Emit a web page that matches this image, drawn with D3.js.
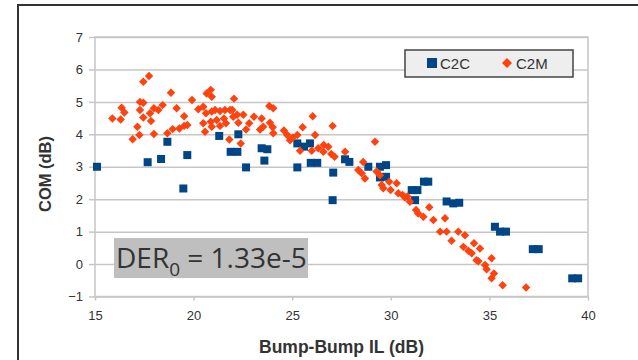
<!DOCTYPE html>
<html>
<head>
<meta charset="utf-8">
<script src="https://cdn.jsdelivr.net/npm/d3@7"></script>
<style>
  body { margin: 0; background: #fff; }
  text { font-family: "Liberation Sans", Arial, sans-serif; fill: #333; }
</style>
</head>
<body>
<div id="chart"></div>
<script>
// ... data: [Bump-Bump IL (dB), COM (dB)]
const c2c = [
  [15.1, 3.0], [17.67, 3.14], [18.35, 3.24], [18.67, 3.77], [19.48, 2.33], [19.68, 3.36],
  [21.3, 3.95], [22.27, 4.0], [21.88, 3.46], [22.22, 3.46], [22.66, 2.98], [23.45, 3.57],
  [23.74, 3.54], [23.59, 3.19], [25.26, 3.72], [25.6, 3.62], [25.9, 3.72], [25.26, 2.98],
  [25.94, 3.12], [26.27, 3.12], [27.05, 1.97], [27.08, 2.82], [27.68, 3.23], [27.9, 3.15],
  [28.86, 3.0], [29.45, 3.0], [29.76, 3.05], [29.45, 2.67], [29.76, 2.69], [31.06, 2.28],
  [31.35, 2.28], [31.23, 1.97], [31.68, 2.54], [31.9, 2.54], [32.83, 1.93], [33.17, 1.87],
  [33.47, 1.89], [35.28, 1.15], [35.54, 1.0], [35.84, 1.0], [37.2, 0.46], [37.5, 0.46],
  [39.2, -0.44], [39.5, -0.44]
];

const c2m = [
  [15.88, 4.49], [16.3, 4.46], [16.35, 4.82], [16.49, 4.67], [16.91, 3.85], [17.15, 4.23],
  [17.25, 3.98], [17.28, 5.0], [17.45, 4.97], [17.28, 4.75], [17.45, 4.52], [17.45, 5.62],
  [17.74, 5.8], [17.79, 4.65], [17.84, 4.41], [17.99, 4.8], [17.99, 4.01], [18.21, 4.75],
  [18.43, 4.9], [18.67, 4.03], [18.85, 5.28], [18.94, 4.16], [19.14, 4.8], [19.28, 4.18],
  [19.52, 4.26], [19.68, 4.29], [19.52, 4.56], [19.92, 5.06], [20.24, 4.77], [20.49, 4.85],
  [20.63, 4.65], [20.49, 4.34], [20.58, 4.08], [20.66, 5.26], [20.87, 5.37], [20.92, 5.16],
  [20.87, 4.39], [20.92, 4.23], [20.92, 4.7], [21.09, 4.75], [21.34, 4.72], [21.59, 4.75],
  [21.85, 4.75], [21.17, 4.44], [21.34, 4.26], [21.54, 4.49], [21.64, 4.34], [21.81, 3.84],
  [21.96, 4.75], [22.05, 5.1], [22.01, 4.54], [22.21, 4.6], [22.27, 4.36], [22.39, 3.72],
  [22.52, 4.6], [22.66, 4.15], [22.82, 4.34], [23.06, 4.54], [23.45, 4.49], [23.53, 4.23],
  [23.37, 4.15], [23.87, 4.36], [24.01, 4.22], [24.04, 4.03], [23.84, 4.87], [24.04, 4.8],
  [24.58, 4.12], [24.75, 3.98], [25.03, 3.9], [24.89, 3.82], [25.26, 3.98], [25.53, 4.22],
  [26.04, 4.56], [26.16, 3.98], [25.4, 3.49], [25.99, 3.49], [26.32, 3.57], [26.6, 3.67],
  [26.83, 3.62], [26.58, 3.46], [27.05, 4.26], [26.98, 3.39], [27.15, 3.31], [27.68, 3.46],
  [29.2, 3.77], [28.6, 3.15], [28.35, 2.9], [28.52, 2.8], [28.69, 2.64], [29.28, 2.85],
  [29.45, 2.74], [29.54, 2.44], [29.62, 2.34], [29.92, 2.54], [30.3, 2.49], [29.99, 2.28],
  [30.38, 2.18], [30.6, 2.13], [30.84, 2.08], [30.97, 1.92], [30.72, 2.05], [31.28, 1.67],
  [31.39, 1.56], [31.65, 1.46], [31.95, 1.75], [32.16, 1.36], [32.75, 1.41], [32.5, 1.0],
  [32.83, 1.0], [33.08, 0.72], [33.42, 1.0], [33.76, 0.89], [33.68, 0.53], [33.93, 0.41],
  [34.1, 0.33], [34.22, 0.64], [34.52, 0.48], [34.35, 0.12], [34.44, 0.09], [34.78, -0.03],
  [34.86, -0.16], [35.11, 0.18], [35.23, -0.29], [35.11, -0.44], [35.67, -0.65], [36.86, -0.72]
];

const xTicks = [15, 20, 25, 30, 35, 40];
const yTicks = [-1, 0, 1, 2, 3, 4, 5, 6, 7];
const seriesNames = ['C2C', 'C2M'];
const colors = ['#004586', '#ff420e'];

const W = 638, H = 360;
const margin = { top: 37, right: 50, bottom: 63.5, left: 95 };
const width = W - margin.left - margin.right;
const height = H - margin.top - margin.bottom;

const svg = d3.select('#chart').append('svg')
  .attr('width', W)
  .attr('height', H);

// ... outer frame (only top and left visible)
svg.append('path')
  .attr('d', 'M18,' + H + 'V5H' + W)
  .attr('fill', 'none')
  .attr('stroke', '#333')
  .attr('stroke-width', 2);

const g = svg.append('g')
  .attr('transform', 'translate(' + margin.left + ',' + margin.top + ')');

const x = d3.scaleLinear().domain([15, 40]).range([0, width]);
const y = d3.scaleLinear().domain([-1, 7]).range([height, 0]);

// ... grid + y axis
g.append('g')
  .attr('class', 'grid')
  .call(d3.axisLeft(y).tickValues(yTicks).tickSize(-width).tickFormat(''))
  .call(s => s.select('.domain').remove())
  .call(s => s.selectAll('line').attr('stroke', '#c6c6c6').attr('stroke-width', 1.5));

g.append('g')
  .call(d3.axisLeft(y).tickValues(yTicks).tickSize(6).tickPadding(6).tickFormat(d3.format('d')))
  .call(s => s.select('.domain').remove())
  .call(s => s.selectAll('line').attr('stroke', '#c6c6c6').attr('stroke-width', 1.5))
  .call(s => s.selectAll('text').attr('font-size', 13).attr('fill', '#333')
    .attr('font-family', '"Liberation Sans", Arial, sans-serif'));

g.append('g')
  .attr('transform', 'translate(0,' + height + ')')
  .call(d3.axisBottom(x).tickValues(xTicks).tickSize(4).tickPadding(10).tickFormat(d3.format('d')))
  .call(s => s.select('.domain').remove())
  .call(s => s.selectAll('line').attr('stroke', '#c6c6c6').attr('stroke-width', 1.5))
  .call(s => s.selectAll('text').attr('font-size', 13).attr('fill', '#333')
    .attr('font-family', '"Liberation Sans", Arial, sans-serif'));

// ... plot border
g.append('rect')
  .attr('width', width)
  .attr('height', height)
  .attr('fill', 'none')
  .attr('stroke', '#c6c6c6')
  .attr('stroke-width', 1.5);

// ... C2C squares
g.append('g').selectAll('rect')
  .data(c2c)
  .join('rect')
  .attr('x', d => x(d[0]) - 4)
  .attr('y', d => y(d[1]) - 4)
  .attr('width', 8)
  .attr('height', 8)
  .attr('fill', colors[0]);

// ... C2M diamonds
const diamond = d3.symbol().type(d3.symbolSquare).size(36);
g.append('g').selectAll('path')
  .data(c2m)
  .join('path')
  .attr('transform', d => 'translate(' + x(d[0]) + ',' + y(d[1]) + ') rotate(45)')
  .attr('d', diamond)
  .attr('fill', colors[1]);

// ... legend
const leg = svg.append('g');
leg.append('rect')
  .attr('x', 405).attr('y', 50)
  .attr('width', 168).attr('height', 27)
  .attr('fill', '#eeeeee')
  .attr('stroke', '#444')
  .attr('stroke-width', 1.5);
leg.append('rect')
  .attr('x', 427).attr('y', 58).attr('width', 10).attr('height', 10)
  .attr('fill', colors[0]);
leg.append('text')
  .attr('x', 440).attr('y', 69)
  .attr('font-size', 15)
  .text(seriesNames[0]);
leg.append('path')
  .attr('transform', 'translate(507,63) rotate(45)')
  .attr('d', d3.symbol().type(d3.symbolSquare).size(50))
  .attr('fill', colors[1]);
leg.append('text')
  .attr('x', 516).attr('y', 69)
  .attr('font-size', 15)
  .text(seriesNames[1]);

// ... axis titles
svg.append('text')
  .attr('x', margin.left + width / 2)
  .attr('y', 353)
  .attr('text-anchor', 'middle')
  .attr('font-size', 17.5)
  .attr('font-weight', 'bold')
  .text('Bump-Bump IL (dB)');

svg.append('text')
  .attr('transform', 'translate(51,174) rotate(-90)')
  .attr('text-anchor', 'middle')
  .attr('font-size', 16.5)
  .attr('font-weight', 'bold')
  .text('COM (dB)');

// ... DER annotation
svg.append('rect')
  .attr('x', 114).attr('y', 238)
  .attr('width', 194).attr('height', 40)
  .attr('fill', '#bfbfbf');
const der = svg.append('text')
  .attr('x', 116).attr('y', 268)
  .attr('font-size', 28)
  .style('font-family', '"Open Sans", sans-serif');
der.append('tspan').text('DER');
der.append('tspan').attr('dy', 8).attr('font-size', 19).text('0');
der.append('tspan').attr('dy', -8).text(' = 1.33e-5');
</script>
</body>
</html>
